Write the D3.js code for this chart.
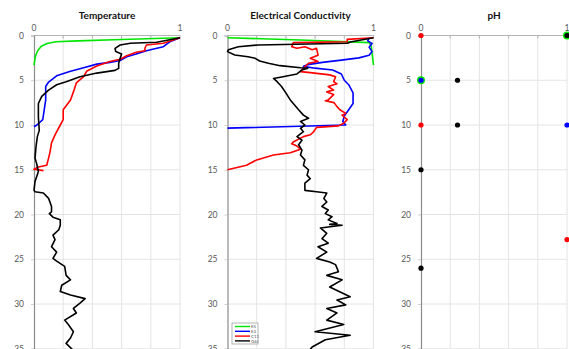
<!DOCTYPE html>
<html>
<head>
<meta charset="utf-8">
<script src="https://cdn.jsdelivr.net/npm/d3@7/dist/d3.min.js"></script>
<style>
html,body{margin:0;padding:0;background:#fff;}
svg{display:block;}
text{font-family:Lato,"Open Sans",sans-serif;}
</style>
</head>
<body>
<svg id="chart" width="569" height="349"></svg>
<script>
// ---------- DATA ----------
const panelTitles = ["Temperature", "Electrical Conductivity", "pH"];
const seriesNames = ["E5", "E3", "C11", "G6I"];
const seriesColors = ["#00e600", "#0000ff", "#ff0000", "#000000"];
const depthTicks = [0, 5, 10, 15, 20, 25, 30, 35];
const xTickLabels = [0, 1];
const xGrid = [0.2, 0.4, 0.6, 0.8, 1.0];

// [normalised value, depth]
const tempE5 = [[1,0.25],[0.6,0.45],[0.3,0.6],[0.15,0.7],[0.09,0.9],[0.05,1.2],[0.025,1.7],[0.01,2.3],[0,3.3]];
const tempE3 = [[1,0.25],[0.93,0.7],[0.886,1.25],[0.82,1.5],[0.77,1.7],[0.7,2.07],[0.635,2.37],[0.59,2.8],[0.52,3.0],[0.43,3.2],[0.34,3.6],[0.25,4.0],[0.155,4.5],[0.1,5.2],[0.08,5.7],[0.08,7.2],[0.07,8.3],[0.06,9.4],[0.02,10.0],[0,10.2]];
const tempC11 = [[1,0.25],[0.886,0.87],[0.77,1.06],[0.76,1.43],[0.76,1.7],[0.7,1.88],[0.635,2.26],[0.59,2.66],[0.52,2.9],[0.43,3.4],[0.36,4.0],[0.34,4.6],[0.29,5.3],[0.27,6.3],[0.25,7.2],[0.2,8.3],[0.2,9.4],[0.18,10.0],[0.144,11.1],[0.12,12.0],[0.11,13.0],[0.1,13.7],[0.087,14.5],[0.03,14.7],[0,14.95],[0.065,15.1]];
const tempG6I = [[1,0.25],[0.84,0.76],[0.66,0.87],[0.59,1.06],[0.555,1.43],[0.56,1.8],[0.6,2.07],[0.59,2.55],[0.58,3.1],[0.58,3.67],[0.555,3.9],[0.43,4.2],[0.315,4.6],[0.22,5.16],[0.155,5.5],[0.1,6.1],[0.053,6.8],[0.03,7.6],[0.03,9.1],[0.036,10.6],[0.023,11.3],[0.014,12.4],[0.007,13.7],[0.018,14.3],[0.03,15.2],[0.007,16.3],[0,17.3],[0.007,17.45],[0.064,17.6],[0.1,18.2],[0.12,19.1],[0.12,19.7],[0.105,19.9],[0.13,20.3],[0.18,20.6],[0.18,21.2],[0.17,21.7],[0.13,22.3],[0.144,22.8],[0.12,23.6],[0.155,24.2],[0.13,24.9],[0.155,25.2],[0.21,25.8],[0.22,26.8],[0.25,27.3],[0.19,27.9],[0.18,28.6],[0.25,29.0],[0.35,29.4],[0.315,29.9],[0.27,30.5],[0.29,31.0],[0.21,31.8],[0.235,32.3],[0.27,33.1],[0.25,33.8],[0.22,34.4],[0.27,35.2]];

const ecE5 = [[0,0.25],[0.5,0.5],[0.97,0.8],[0.985,1.2],[0.99,2.0],[1.0,3.3]];
const ecE3 = [[0.97,0.3],[0.96,0.6],[0.99,0.9],[0.97,1.3],[0.99,1.8],[0.97,2.2],[0.9,2.5],[0.78,2.75],[0.65,3.0],[0.55,3.25],[0.52,3.45],[0.6,3.65],[0.72,3.85],[0.78,4.3],[0.8,5.0],[0.83,5.5],[0.86,6.4],[0.86,7.6],[0.83,8.3],[0.8,9.0],[0.79,9.6],[0.81,10.0],[0,10.35]];
const ecC11 = [[1,0.25],[0.82,0.43],[0.82,0.7],[0.45,0.8],[0.44,1.25],[0.476,1.43],[0.53,1.25],[0.58,1.6],[0.61,1.43],[0.62,2.2],[0.567,2.55],[0.62,2.9],[0.555,3.1],[0.53,3.5],[0.51,3.85],[0.5,4.04],[0.567,4.15],[0.7,4.4],[0.74,4.6],[0.727,5.16],[0.75,5.4],[0.69,5.7],[0.727,6.1],[0.68,6.3],[0.727,6.6],[0.69,7.2],[0.67,7.3],[0.73,7.5],[0.75,7.95],[0.77,8.3],[0.81,8.7],[0.785,8.9],[0.82,9.4],[0.796,9.8],[0.76,10.1],[0.61,10.26],[0.59,10.75],[0.567,11.1],[0.52,11.3],[0.45,11.9],[0.44,12.1],[0.476,12.35],[0.5,12.7],[0.43,13.1],[0.315,13.35],[0.2,13.9],[0.13,14.5],[0,15.0]];
const ecG6I = [[1,0.25],[0.85,0.7],[0.82,0.87],[0.21,1.06],[0.074,1.25],[0.006,1.6],[0,1.8],[0.05,2.18],[0.14,2.37],[0.19,2.55],[0.22,2.85],[0.28,3.1],[0.36,3.37],[0.5,3.6],[0.55,3.65],[0.51,3.85],[0.476,4.3],[0.38,4.6],[0.315,4.8],[0.34,5.16],[0.37,5.7],[0.395,6.3],[0.43,7.2],[0.487,8.3],[0.52,8.9],[0.555,9.25],[0.5,9.6],[0.53,10.0],[0.5,10.37],[0.52,10.75],[0.476,11.3],[0.51,11.7],[0.487,12.2],[0.51,12.8],[0.5,13.35],[0.53,13.9],[0.52,14.5],[0.555,15.0],[0.545,15.6],[0.567,16.0],[0.53,16.5],[0.53,17.3],[0.61,17.45],[0.68,17.6],[0.66,18.2],[0.68,18.6],[0.647,19.1],[0.69,19.5],[0.67,19.9],[0.716,20.25],[0.69,20.6],[0.75,21.0],[0.7,21.1],[0.785,21.2],[0.636,21.5],[0.68,22.1],[0.647,22.7],[0.69,23.2],[0.62,23.6],[0.68,24.2],[0.61,24.9],[0.7,25.3],[0.74,25.6],[0.76,26.4],[0.68,26.8],[0.785,27.3],[0.7,28.1],[0.84,29.2],[0.75,29.55],[0.81,30.1],[0.68,30.5],[0.75,31.0],[0.68,31.8],[0.796,32.3],[0.6,33.1],[0.84,33.5],[0.67,34.0],[0.58,34.8],[0.56,35.2]];

const phE5 = [[1,0],[0,5]];
const phE3 = [[0,5],[1,10]];
const phC11 = [[0,0],[0,10],[1,22.8]];
const phG6I = [[1,0],[0.25,5],[0.25,10],[0,15],[0,26]];

// ---------- LAYOUT ----------
const svg = d3.select("#chart");
const panelX0 = [34, 227.5, 421];
const panelW = 146;
const y = d3.scaleLinear().domain([0, 35]).range([35.5, 348.75]);

const panels = [
  {title: panelTitles[0], type: "line", series: [tempE5, tempE3, tempC11, tempG6I]},
  {title: panelTitles[1], type: "line", series: [ecE5, ecE3, ecC11, ecG6I]},
  {title: panelTitles[2], type: "dot", series: [phE5, phE3, phC11, phG6I]}
];

panels.forEach((p, i) => {
  const x = d3.scaleLinear().domain([0, 1]).range([panelX0[i], panelX0[i] + panelW]);
  const g = svg.append("g");

  // vertical gridlines
  g.selectAll(".vg").data(xGrid).join("line")
    .attr("x1", d => x(d)).attr("x2", d => x(d))
    .attr("y1", y(0)).attr("y2", y(35))
    .attr("stroke", "#e4e4e4").attr("stroke-width", 1);
  // horizontal gridlines
  g.selectAll(".hg").data(depthTicks.slice(1)).join("line")
    .attr("x1", x(0)).attr("x2", x(1))
    .attr("y1", d => y(d)).attr("y2", d => y(d))
    .attr("stroke", "#e4e4e4").attr("stroke-width", 1);

  // top axis line with inward tick marks
  g.append("line").attr("x1", x(0)).attr("x2", x(1))
    .attr("y1", y(0)).attr("y2", y(0))
    .attr("stroke", "#b5b5b5").attr("stroke-width", 1);
  g.selectAll(".tt").data(xGrid).join("line")
    .attr("x1", d => x(d)).attr("x2", d => x(d))
    .attr("y1", y(0)).attr("y2", y(0) + 3)
    .attr("stroke", "#b5b5b5");

  // left axis
  const yAxis = d3.axisLeft(y).tickValues(depthTicks).tickSize(3).tickPadding(7);
  const ya = g.append("g").attr("transform", `translate(${x(0)},0)`).call(yAxis);
  ya.select(".domain").attr("stroke", "#8c8c8c").attr("stroke-width", 1.2);
  ya.selectAll(".tick line").attr("stroke", "#d0d0d0");
  ya.selectAll(".tick text").attr("fill", "#595959").style("font-size", "8.5px")
    .style("font-family", "Lato, 'Open Sans', sans-serif");

  // top tick labels
  g.selectAll(".xl").data(xTickLabels).join("text")
    .attr("x", d => x(d)).attr("y", 31)
    .attr("text-anchor", "middle").attr("fill", "#595959")
    .style("font-size", "8.5px").text(d => d);

  // title
  g.append("text").attr("x", x(0.5)).attr("y", 19)
    .attr("text-anchor", "middle").attr("fill", "#111")
    .style("font-size", "10px").style("font-weight", "bold").text(p.title);

  if (p.type === "line") {
    const line = d3.line().x(d => x(d[0])).y(d => y(d[1]));
    p.series.forEach((s, k) => {
      g.append("path").datum(s).attr("d", line)
        .attr("fill", "none").attr("stroke", seriesColors[k])
        .attr("stroke-width", 1.6).attr("stroke-linejoin", "round");
    });
  } else {
    p.series.forEach((s, k) => {
      g.selectAll(".dot" + k).data(s).join("circle")
        .attr("cx", d => x(d[0])).attr("cy", d => y(d[1]))
        .attr("r", k === 0 ? 4 : 2.6)
        .attr("fill", seriesColors[k]);
    });
  }
});

// ---------- LEGEND ----------
const lg = svg.append("g").attr("transform", "translate(232,323)");
lg.append("rect").attr("width", 26).attr("height", 21)
  .attr("fill", "#fff").attr("stroke", "#a0a0a0").attr("stroke-width", 0.8);
seriesNames.forEach((n, k) => {
  const yy = 3.5 + k * 4.8;
  lg.append("line").attr("x1", 3).attr("x2", 18).attr("y1", yy).attr("y2", yy)
    .attr("stroke", seriesColors[k]).attr("stroke-width", 1.4);
  lg.append("text").attr("x", 19).attr("y", yy + 1.6)
    .attr("fill", "#595959").style("font-size", "4.5px").text(n);
});
</script>
</body>
</html>
